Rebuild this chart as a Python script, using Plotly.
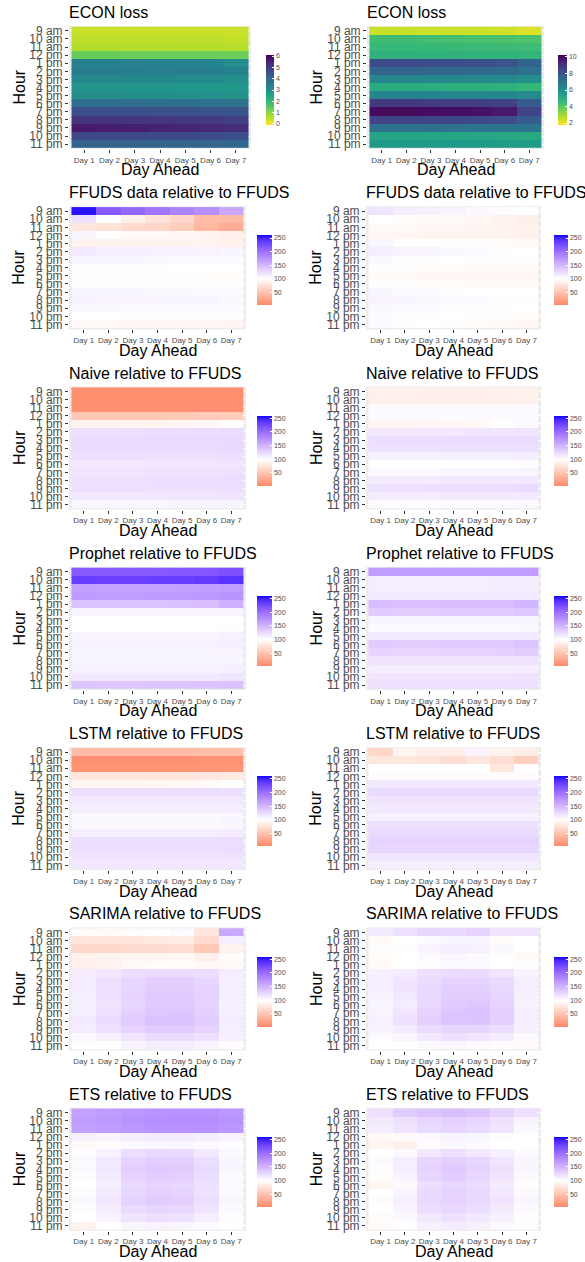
import plotly.graph_objects as go
import numpy as np

# ---------------- data ----------------
hours = ["9 am", "10 am", "11 am", "12 pm", "1 pm", "2 pm", "3 pm", "4 pm",
         "5 pm", "6 pm", "7 pm", "8 pm", "9 pm", "10 pm", "11 pm"]
days = ["Day 1", "Day 2", "Day 3", "Day 4", "Day 5", "Day 6", "Day 7"]

titles = ["ECON loss", "FFUDS data relative to FFUDS", "Naive relative to FFUDS",
          "Prophet relative to FFUDS", "LSTM relative to FFUDS",
          "SARIMA relative to FFUDS", "ETS relative to FFUDS"]

econ_left = [
    [0.40, 0.40, 0.40, 0.40, 0.40, 0.40, 0.38],
    [0.50, 0.50, 0.50, 0.49, 0.49, 0.49, 0.47],
    [0.62, 0.62, 0.61, 0.61, 0.60, 0.60, 0.59],
    [1.35, 1.35, 1.34, 1.33, 1.32, 1.32, 1.30],
    [3.40, 3.40, 3.38, 3.36, 3.34, 3.28, 3.05],
    [3.50, 3.50, 3.48, 3.46, 3.44, 3.42, 3.32],
    [3.20, 3.20, 3.18, 3.16, 3.15, 3.12, 3.05],
    [2.90, 2.90, 2.88, 2.87, 2.86, 2.84, 2.80],
    [3.05, 3.05, 3.03, 3.02, 3.00, 2.98, 2.95],
    [3.90, 3.90, 3.88, 3.86, 3.84, 3.80, 3.75],
    [4.60, 4.60, 4.57, 4.55, 4.53, 4.50, 4.45],
    [5.15, 5.15, 5.12, 5.10, 5.08, 5.02, 4.95],
    [5.65, 5.60, 5.58, 5.52, 5.48, 5.40, 5.30],
    [4.75, 4.75, 4.73, 4.71, 4.69, 4.65, 4.60],
    [4.15, 4.15, 4.13, 4.12, 4.10, 4.08, 4.05],
]
econ_right = [
    [2.45, 2.45, 2.43, 2.42, 2.40, 2.35, 2.20],
    [4.40, 4.40, 4.35, 4.30, 4.22, 4.20, 4.18],
    [4.55, 4.55, 4.53, 4.50, 4.47, 4.45, 4.43],
    [4.85, 4.85, 4.82, 4.80, 4.78, 4.75, 4.70],
    [8.30, 8.30, 8.25, 8.20, 8.15, 8.05, 7.55],
    [7.50, 7.50, 7.45, 7.40, 7.35, 7.30, 7.10],
    [6.30, 6.30, 6.27, 6.25, 6.23, 6.20, 6.05],
    [5.00, 5.00, 4.95, 4.90, 4.88, 4.85, 4.60],
    [6.40, 6.40, 6.38, 6.35, 6.32, 6.30, 6.20],
    [8.80, 8.80, 8.75, 8.70, 8.65, 8.55, 7.80],
    [10.0, 10.0, 9.95, 9.90, 9.85, 9.65, 8.50],
    [8.50, 8.50, 8.45, 8.40, 8.35, 8.25, 7.80],
    [7.10, 7.10, 7.08, 7.05, 7.02, 7.00, 6.90],
    [5.30, 5.30, 5.28, 5.25, 5.22, 5.20, 5.10],
    [5.70, 5.70, 5.68, 5.65, 5.62, 5.60, 5.55],
]
ffuds_left = [
    [255, 215, 205, 195, 185, 178, 160],
    [120, 100, 88, 75, 65, 45, 43],
    [80, 76, 70, 65, 58, 40, 33],
    [106, 100, 96, 95, 94, 92, 88],
    [91, 90, 90, 90, 90, 90, 89],
    [115, 112, 112, 110, 110, 108, 106],
    [107, 106, 106, 105, 104, 104, 103],
    [102, 102, 101, 101, 100, 100, 100],
    [98, 98, 98, 98, 98, 98, 97],
    [99, 99, 99, 99, 99, 98, 98],
    [107, 106, 106, 105, 105, 104, 104],
    [109, 108, 108, 107, 107, 106, 105],
    [105, 105, 104, 104, 104, 103, 103],
    [100, 100, 99, 99, 99, 98, 98],
    [95, 95, 94, 94, 93, 93, 92],
]
ffuds_right = [
    [118, 112, 110, 108, 105, 102, 100],
    [100, 99, 96, 95, 93, 90, 87],
    [96, 95, 93, 93, 92, 90, 88],
    [93, 92, 91, 91, 90, 90, 89],
    [106, 101, 100, 99, 98, 97, 96],
    [112, 108, 106, 105, 103, 101, 100],
    [105, 102, 101, 100, 99, 98, 98],
    [99, 98, 97, 97, 96, 95, 95],
    [96, 95, 94, 94, 93, 93, 93],
    [99, 98, 97, 97, 96, 96, 96],
    [106, 104, 103, 102, 100, 100, 100],
    [108, 106, 105, 104, 103, 102, 102],
    [105, 104, 103, 102, 101, 101, 100],
    [104, 102, 101, 100, 99, 98, 97],
    [103, 101, 100, 99, 97, 96, 94],
]
naive_left = [
    [8, 8, 8, 8, 8, 8, 8],
    [8, 8, 8, 8, 8, 8, 8],
    [9, 9, 9, 9, 9, 9, 9],
    [55, 55, 55, 55, 55, 56, 57],
    [90, 90, 91, 91, 92, 94, 99],
    [122, 122, 122, 123, 123, 123, 124],
    [124, 124, 124, 125, 125, 125, 126],
    [123, 123, 123, 124, 124, 124, 125],
    [120, 120, 120, 121, 121, 121, 122],
    [116, 116, 116, 117, 117, 117, 118],
    [118, 118, 118, 119, 119, 119, 120],
    [120, 120, 120, 121, 121, 121, 122],
    [120, 120, 120, 121, 121, 121, 122],
    [116, 116, 116, 117, 117, 117, 118],
    [106, 106, 106, 106, 107, 107, 107],
]
naive_right = [
    [88, 88, 87, 87, 87, 88, 88],
    [88, 88, 88, 88, 88, 88, 89],
    [103, 103, 103, 103, 104, 104, 104],
    [103, 103, 103, 103, 104, 104, 104],
    [92, 92, 92, 93, 94, 100, 104],
    [115, 115, 116, 116, 117, 117, 118],
    [122, 122, 122, 123, 123, 123, 124],
    [120, 120, 120, 121, 121, 121, 122],
    [110, 110, 110, 111, 111, 111, 112],
    [100, 100, 100, 101, 101, 101, 102],
    [105, 105, 105, 106, 106, 106, 107],
    [114, 114, 114, 115, 115, 115, 116],
    [120, 120, 121, 121, 122, 122, 124],
    [114, 114, 114, 115, 115, 115, 116],
    [103, 103, 103, 104, 104, 104, 105],
]
prophet_left = [
    [215, 214, 214, 215, 216, 217, 220],
    [232, 231, 231, 232, 233, 235, 240],
    [165, 163, 163, 164, 165, 166, 168],
    [170, 168, 168, 169, 170, 171, 174],
    [142, 141, 141, 142, 143, 145, 155],
    [108, 108, 108, 108, 108, 108, 108],
    [100, 100, 100, 100, 100, 100, 100],
    [100, 100, 100, 100, 100, 100, 101],
    [108, 108, 108, 108, 108, 108, 109],
    [110, 110, 110, 110, 110, 110, 111],
    [107, 107, 107, 107, 107, 107, 108],
    [106, 106, 106, 106, 106, 106, 107],
    [110, 110, 110, 110, 110, 110, 111],
    [116, 116, 116, 116, 116, 116, 117],
    [140, 139, 139, 140, 140, 141, 142],
]
prophet_right = [
    [168, 168, 168, 168, 168, 168, 168],
    [112, 112, 112, 112, 112, 113, 113],
    [112, 112, 112, 112, 112, 113, 113],
    [115, 115, 115, 115, 115, 116, 116],
    [145, 144, 144, 145, 145, 146, 150],
    [135, 134, 134, 135, 135, 136, 138],
    [106, 106, 106, 106, 106, 106, 107],
    [104, 104, 104, 104, 104, 104, 105],
    [115, 115, 115, 115, 115, 115, 116],
    [135, 134, 134, 135, 135, 136, 140],
    [130, 129, 129, 130, 130, 131, 134],
    [118, 118, 118, 118, 118, 118, 119],
    [112, 112, 112, 112, 112, 112, 113],
    [118, 118, 118, 118, 118, 118, 119],
    [120, 120, 120, 120, 120, 120, 121],
]
lstm_left = [
    [45, 45, 45, 45, 45, 46, 47],
    [10, 10, 10, 10, 10, 11, 11],
    [12, 12, 12, 12, 12, 13, 13],
    [78, 78, 78, 78, 79, 80, 82],
    [92, 92, 92, 93, 94, 96, 100],
    [122, 122, 122, 122, 122, 122, 122],
    [115, 115, 115, 115, 115, 115, 115],
    [112, 112, 112, 112, 112, 112, 112],
    [105, 105, 105, 105, 105, 105, 106],
    [105, 105, 105, 105, 105, 105, 106],
    [112, 112, 112, 112, 112, 112, 113],
    [122, 122, 122, 122, 122, 122, 123],
    [122, 122, 122, 122, 122, 122, 123],
    [118, 118, 118, 118, 118, 118, 119],
    [115, 115, 115, 115, 115, 115, 116],
]
lstm_right = [
    [65, 92, 85, 88, 108, 90, 85],
    [80, 80, 78, 72, 80, 72, 60],
    [100, 100, 100, 100, 100, 80, 100],
    [102, 102, 102, 102, 102, 102, 102],
    [115, 115, 115, 115, 115, 115, 115],
    [125, 125, 125, 125, 125, 125, 125],
    [118, 118, 118, 118, 118, 118, 118],
    [115, 115, 115, 115, 115, 115, 115],
    [110, 110, 110, 110, 110, 110, 110],
    [120, 120, 120, 120, 120, 120, 120],
    [125, 125, 125, 125, 125, 125, 125],
    [130, 130, 130, 130, 130, 130, 130],
    [128, 128, 128, 128, 128, 128, 128],
    [118, 118, 118, 118, 118, 118, 118],
    [112, 112, 112, 112, 112, 112, 112],
]
sarima_left = [
    [97, 96, 98, 100, 104, 80, 160],
    [78, 80, 80, 82, 84, 70, 112],
    [68, 68, 70, 70, 72, 55, 90],
    [88, 90, 92, 92, 94, 88, 98],
    [88, 90, 95, 97, 97, 95, 95],
    [113, 116, 122, 124, 124, 122, 112],
    [114, 120, 128, 132, 132, 128, 112],
    [113, 120, 128, 134, 134, 130, 112],
    [112, 120, 130, 136, 136, 130, 112],
    [110, 118, 128, 135, 136, 130, 110],
    [112, 120, 132, 138, 140, 132, 112],
    [115, 124, 135, 142, 142, 135, 114],
    [114, 120, 130, 136, 136, 130, 112],
    [105, 110, 118, 124, 124, 120, 110],
    [100, 100, 108, 112, 112, 108, 102],
]
sarima_right = [
    [115, 120, 128, 126, 130, 118, 118],
    [96, 100, 103, 106, 106, 97, 100],
    [98, 102, 108, 112, 110, 105, 100],
    [97, 100, 104, 106, 104, 100, 96],
    [96, 100, 102, 104, 103, 100, 99],
    [110, 114, 120, 124, 124, 118, 108],
    [112, 118, 124, 130, 130, 124, 112],
    [110, 118, 126, 132, 132, 126, 112],
    [108, 116, 126, 134, 134, 128, 110],
    [106, 114, 126, 136, 138, 130, 110],
    [108, 118, 130, 140, 142, 132, 112],
    [110, 120, 132, 140, 140, 132, 112],
    [108, 114, 124, 128, 128, 122, 110],
    [104, 106, 116, 120, 118, 114, 104],
    [100, 100, 104, 106, 104, 102, 95],
]
ets_left = [
    [165, 168, 172, 175, 176, 176, 172],
    [168, 170, 174, 178, 178, 178, 175],
    [165, 168, 172, 175, 176, 176, 172],
    [110, 108, 112, 114, 114, 112, 108],
    [96, 98, 104, 106, 106, 104, 102],
    [102, 110, 122, 126, 124, 116, 104],
    [104, 115, 130, 134, 132, 122, 106],
    [104, 116, 132, 136, 134, 124, 106],
    [102, 114, 130, 134, 132, 122, 104],
    [100, 112, 126, 130, 128, 120, 104],
    [102, 114, 128, 132, 130, 120, 104],
    [104, 116, 130, 134, 132, 122, 106],
    [102, 112, 124, 128, 126, 118, 104],
    [100, 108, 118, 122, 120, 112, 102],
    [90, 100, 106, 108, 106, 104, 100],
]
ets_right = [
    [120, 135, 140, 145, 140, 130, 120],
    [115, 120, 128, 132, 128, 120, 108],
    [112, 118, 125, 128, 125, 118, 105],
    [95, 95, 105, 108, 106, 102, 100],
    [92, 88, 102, 105, 103, 100, 100],
    [100, 105, 115, 120, 115, 110, 104],
    [104, 112, 128, 132, 128, 118, 106],
    [102, 112, 130, 136, 130, 120, 106],
    [98, 108, 128, 134, 128, 118, 104],
    [92, 104, 122, 128, 124, 114, 102],
    [100, 108, 125, 130, 126, 116, 104],
    [102, 110, 126, 130, 126, 118, 106],
    [100, 108, 122, 126, 122, 114, 104],
    [98, 104, 115, 120, 116, 110, 102],
    [96, 100, 110, 114, 110, 104, 98],
]

panels = [
    (econ_left, econ_right),
    (ffuds_left, ffuds_right),
    (naive_left, naive_right),
    (prophet_left, prophet_right),
    (lstm_left, lstm_right),
    (sarima_left, sarima_right),
    (ets_left, ets_right),
]

rel_ticks = [50, 100, 150, 200, 250]
econ_left_ticks = [0, 1, 2, 3, 4, 5, 6]
econ_right_ticks = [2, 4, 6, 8, 10]

# ---------------- colour scale (ggplot gradient2 in CIELAB) ----------------
def _lin(c):
    c = c / 255
    return c / 12.92 if c <= 0.04045 else ((c + 0.055) / 1.055) ** 2.4

def _delin(c):
    c = max(0.0, c)
    c = 12.92 * c if c <= 0.0031308 else 1.055 * c ** (1 / 2.4) - 0.055
    return int(min(255, max(0, round(c * 255))))

def rgb2lab(rgb):
    r, g, b = [_lin(v) for v in rgb]
    X = 0.4124564 * r + 0.3575761 * g + 0.1804375 * b
    Y = 0.2126729 * r + 0.7151522 * g + 0.0721750 * b
    Z = 0.0193339 * r + 0.1191920 * g + 0.9503041 * b
    def f(t):
        return t ** (1 / 3) if t > 216 / 24389 else (24389 / 27 * t + 16) / 116
    fx, fy, fz = f(X / 0.95047), f(Y), f(Z / 1.08883)
    return (116 * fy - 16, 500 * (fx - fy), 200 * (fy - fz))

def lab2rgb(lab):
    L, a, b = lab
    fy = (L + 16) / 116
    fx = fy + a / 500
    fz = fy - b / 200
    def finv(t):
        return t ** 3 if t ** 3 > 216 / 24389 else (116 * t - 16) / (24389 / 27)
    X, Y, Z = finv(fx) * 0.95047, finv(fy), finv(fz) * 1.08883
    r = 3.2404542 * X - 1.5371385 * Y - 0.4985314 * Z
    g = -0.9692660 * X + 1.8760108 * Y + 0.0415560 * Z
    bb = 0.0556434 * X - 0.2040259 * Y + 1.0572252 * Z
    return tuple(_delin(v) for v in (r, g, bb))

ZMIN, ZMAX, MID = 3.5, 260.0, 100.0
ext = max(ZMAX - MID, MID - ZMIN)
lab_low, lab_mid, lab_high = rgb2lab((255, 0, 0)), rgb2lab((255, 255, 255)), rgb2lab((0, 0, 255))
stops = sorted(set([float(p) for p in np.linspace(0, 1, 81)] + [(MID - ZMIN) / (ZMAX - ZMIN)]))
rel_scale = []
for p in stops:
    v = ZMIN + p * (ZMAX - ZMIN)
    t = min(1.0, max(0.0, 0.5 + (v - MID) / (2 * ext)))
    if t < 0.5:
        a, b_, fr = lab_low, lab_mid, t / 0.5
    else:
        a, b_, fr = lab_mid, lab_high, (t - 0.5) / 0.5
    lab = tuple(a[i] + (b_[i] - a[i]) * fr for i in range(3))
    r, g, bb = lab2rgb(lab)
    rel_scale.append([p, f"rgb({r},{g},{bb})"])

# ---------------- layout geometry ----------------
W, H = 585, 1262
FONT = "Liberation Sans, Arial, sans-serif"
GRAY = "#4D4D4D"
PH = 123

def py(px):
    return 1 - px / H

fig = go.Figure()
annotations = []
layout_axes = {}

k = 0
for r, (zl, zr) in enumerate(panels):
    top = 26 + 180.3 * r
    bot = top + PH
    for side in range(2):
        k += 1
        z = zl if side == 0 else zr
        if r == 0:
            x0, x1 = (69, 251) if side == 0 else (367, 544)
            cbx, cbth = (266, 8) if side == 0 else (558, 9)
        else:
            x0, x1 = (69, 246) if side == 0 else (366, 541)
            cbx, cbth = (257, 15) if side == 0 else (554, 14)
        hour_x = 19 if side == 0 else 316

        cb = dict(
            x=cbx / W, xanchor="left", xpad=0, ypad=0,
            y=py(top + 29), yanchor="top", len=70 / H, lenmode="fraction",
            thickness=cbth, thicknessmode="pixels", outlinewidth=0,
            tickmode="array", ticks="inside", ticklen=2, tickcolor="white",
            tickfont=dict(size=7, color=GRAY, family=FONT),
        )
        if r == 0:
            if side == 0:
                zmin, zmax, ticks = -0.09, 6.09, econ_left_ticks
            else:
                zmin, zmax, ticks = 1.76, 10.24, econ_right_ticks
            cb["tickvals"] = ticks
            trace = go.Heatmap(z=z, x=days, y=hours, zmin=zmin, zmax=zmax,
                               colorscale="Viridis", reversescale=True,
                               colorbar=cb)
        else:
            cb["tickvals"] = rel_ticks
            trace = go.Heatmap(z=z, x=days, y=hours, zmin=ZMIN, zmax=ZMAX,
                               colorscale=rel_scale, colorbar=cb)
        sfx = "" if k == 1 else str(k)
        trace.update(xaxis="x" + sfx, yaxis="y" + sfx)
        fig.add_trace(trace)

        layout_axes["xaxis" + sfx] = dict(
            domain=[x0 / W, x1 / W], anchor="y" + sfx, type="category",
            range=[-0.6, 6.6], tickmode="array", tickvals=days, ticktext=days,
            ticks="outside", ticklen=3, tickwidth=0.6, tickcolor="#333333",
            tickfont=dict(size=8, color=GRAY, family=FONT),
            showgrid=True, gridcolor="white", gridwidth=1, zeroline=False,
            showline=False, fixedrange=True,
        )
        layout_axes["yaxis" + sfx] = dict(
            domain=[py(bot), py(top)], anchor="x" + sfx, type="category",
            range=[14.6, -0.6], tickmode="array", tickvals=hours, ticktext=hours,
            ticks="outside", ticklen=3, tickwidth=0.6, tickcolor="#333333",
            tickfont=dict(size=12, color=GRAY, family=FONT),
            showgrid=True, gridcolor="white", gridwidth=1, zeroline=False,
            showline=False, fixedrange=True,
        )
        annotations.append(dict(
            text=titles[r], x=(x0 - 2) / W, y=py(top - 13.5), xref="paper", yref="paper",
            xanchor="left", yanchor="middle", showarrow=False,
            font=dict(size=16, color="black", family=FONT)))
        annotations.append(dict(
            text="Hour", x=hour_x / W, y=py((top + bot) / 2), xref="paper", yref="paper",
            xanchor="center", yanchor="middle", textangle=-90, showarrow=False,
            font=dict(size=16, color="black", family=FONT)))
        annotations.append(dict(
            text="Day Ahead", x=(x0 + x1) / 2 / W, y=py(bot + 21), xref="paper", yref="paper",
            xanchor="center", yanchor="middle", showarrow=False,
            font=dict(size=16, color="black", family=FONT)))

fig.update_layout(
    template="none",
    width=W, height=H, margin=dict(l=0, r=0, t=0, b=0, pad=0),
    paper_bgcolor="white", plot_bgcolor="#EBEBEB",
    font=dict(family=FONT, color=GRAY), showlegend=False,
    annotations=annotations, **layout_axes,
)

fig.write_html("out.html")
